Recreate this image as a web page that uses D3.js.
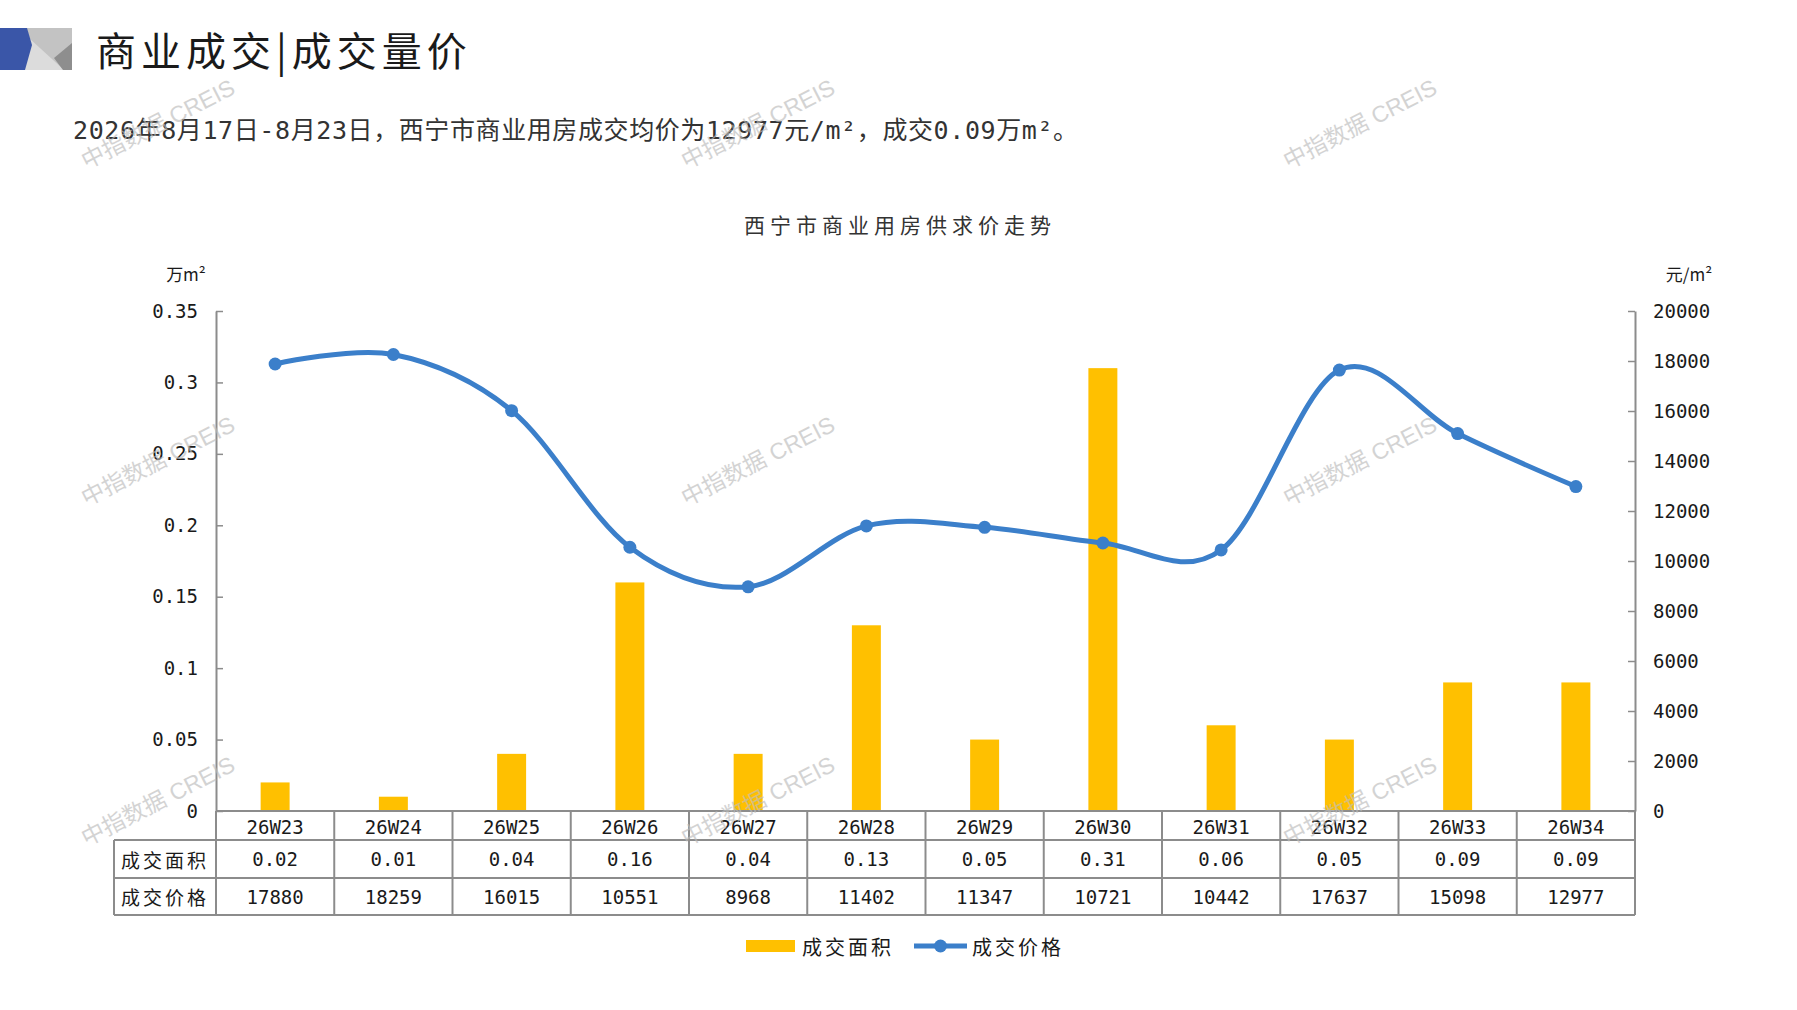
<!DOCTYPE html>
<html>
<head>
<meta charset="utf-8">
<script src="https://cdn.jsdelivr.net/npm/d3@7/dist/d3.min.js"></script>
<style>
  body { margin: 0; background: #fff; }
  text { fill: #1a1a1a; }
</style>
</head>
<body>
<script>
const weeks = ['26W23','26W24','26W25','26W26','26W27','26W28','26W29','26W30','26W31','26W32','26W33','26W34']
const area = [0.02,0.01,0.04,0.16,0.04,0.13,0.05,0.31,0.06,0.05,0.09,0.09]
const price = [17880,18259,16015,10551,8968,11402,11347,10721,10442,17637,15098,12977]
const areaTicks = [0,0.05,0.1,0.15,0.2,0.25,0.3,0.35]
const priceTicks = [0,2000,4000,6000,8000,10000,12000,14000,16000,18000,20000]
const rowNames = ['成交面积','成交价格']

const W = 1797, H = 1010
const plotL = 216, plotR = 1635, plotT = 311, plotB = 811
const rowY = [811, 840, 878, 915]
const tableLeft = 114
const gold = '#FFC000', blue = '#3b7fca', grid = '#8c8c8c'
const cjk = '"Noto Sans CJK SC", "Noto Sans", sans-serif'
const mono = '"DejaVu Sans Mono", "Noto Sans CJK SC", monospace'

const svg = d3.select('body').append('svg')
  .attr('width', W)
  .attr('height', H)

// header icon
const icon = svg.append('g')
icon.append('rect').attr('x', 25).attr('y', 28).attr('width', 47).attr('height', 42).attr('fill', '#c3c3c3')
icon.append('polygon').attr('points', '29,38 24,70 64,70').attr('fill', '#dcdcdc')
icon.append('polygon').attr('points', '72,43 54,58 63,70 72,70').attr('fill', '#8e8e8e')
icon.append('polygon').attr('points', '0,28 27,28 32,45 25,70 0,70').attr('fill', '#3a56a8')

svg.append('text')
  .attr('x', 96).attr('y', 49)
  .attr('dominant-baseline', 'central')
  .style('font-family', cjk).style('font-size', '40px').style('letter-spacing', '5px')
  .text('商业成交|成交量价')

svg.append('text')
  .attr('x', 73).attr('y', 130)
  .attr('dominant-baseline', 'central')
  .style('font-family', mono).style('font-size', '25px').style('letter-spacing', '0.6px').style('fill', '#333')
  .text(`2026年8月17日-8月23日，西宁市商业用房成交均价为${price[price.length-1]}元/m²，成交${area[area.length-1].toFixed(2)}万m²。`)

svg.append('text')
  .attr('x', 900).attr('y', 224)
  .attr('text-anchor', 'middle').attr('dominant-baseline', 'central')
  .style('font-family', cjk).style('font-size', '21px').style('letter-spacing', '5px').style('fill', '#333')
  .text('西宁市商业用房供求价走势')

svg.append('text')
  .attr('x', 186).attr('y', 273)
  .attr('text-anchor', 'middle').attr('dominant-baseline', 'central')
  .style('font-family', cjk).style('font-size', '17px')
  .text('万m²')
svg.append('text')
  .attr('x', 1689).attr('y', 273)
  .attr('text-anchor', 'middle').attr('dominant-baseline', 'central')
  .style('font-family', cjk).style('font-size', '17px')
  .text('元/m²')

const x = d3.scaleBand().domain(weeks).range([plotL, plotR]).padding(0)
const yL = d3.scaleLinear().domain([0, 0.35]).range([plotB, plotT])
const yR = d3.scaleLinear().domain([0, 20000]).range([plotB, plotT])

const fmtArea = d => String(+d.toFixed(2))

const axL = svg.append('g')
  .attr('transform', `translate(${plotL},0)`)
  .call(d3.axisLeft(yL).tickValues(areaTicks).tickFormat(fmtArea).tickSizeInner(-7).tickSizeOuter(0).tickPadding(18))
const axR = svg.append('g')
  .attr('transform', `translate(${plotR},0)`)
  .call(d3.axisRight(yR).tickValues(priceTicks).tickFormat(d3.format('d')).tickSizeInner(-7).tickSizeOuter(0).tickPadding(18))
;[axL, axR].forEach(ax => {
  ax.select('.domain').attr('stroke', grid).attr('stroke-width', 2)
  ax.selectAll('.tick line').attr('stroke', grid).attr('stroke-width', 1.5)
  ax.selectAll('.tick text')
    .style('font-family', mono).style('font-size', '19px').attr('fill', '#1a1a1a')
})

// bars
const bw = x.bandwidth() * 0.245
svg.selectAll('rect.bar')
  .data(area)
  .enter()
  .append('rect')
  .attr('class', 'bar')
  .attr('x', (d, i) => x(weeks[i]) + x.bandwidth() / 2 - bw / 2)
  .attr('width', bw)
  .attr('y', d => yL(d))
  .attr('height', d => plotB - yL(d))
  .attr('fill', gold)

// table
const tb = svg.append('g').attr('stroke', grid).attr('stroke-width', 2)
tb.append('line').attr('x1', plotL).attr('x2', plotR).attr('y1', rowY[0]).attr('y2', rowY[0])
rowY.slice(1).forEach(y => {
  tb.append('line').attr('x1', tableLeft).attr('x2', plotR).attr('y1', y).attr('y2', y)
})
tb.append('line').attr('x1', tableLeft).attr('x2', tableLeft).attr('y1', rowY[1]).attr('y2', rowY[3])
weeks.forEach(w => {
  tb.append('line').attr('x1', x(w)).attr('x2', x(w)).attr('y1', rowY[0]).attr('y2', rowY[3])
})
tb.append('line').attr('x1', plotR).attr('x2', plotR).attr('y1', rowY[0]).attr('y2', rowY[3])

const midY = i => (rowY[i] + rowY[i + 1]) / 2
const cell = (xx, yy, t, font) => svg.append('text')
  .attr('x', xx).attr('y', yy)
  .attr('text-anchor', 'middle').attr('dominant-baseline', 'central')
  .style('font-family', font).style('font-size', '19px')
  .text(t)

weeks.forEach((w, i) => {
  const cx = x(w) + x.bandwidth() / 2
  cell(cx, midY(0) + 1, w, mono)
  cell(cx, midY(1), area[i].toFixed(2), mono)
  cell(cx, midY(2), price[i], mono)
})
rowNames.forEach((n, i) => {
  cell((tableLeft + plotL) / 2, midY(i + 1), n, cjk).style('letter-spacing', '3px')
})

// price line
const pts = price.map((p, i) => [x(weeks[i]) + x.bandwidth() / 2, yR(p)])
svg.append('path')
  .attr('d', d3.line().curve(d3.curveCardinal.tension(0))(pts))
  .attr('fill', 'none')
  .attr('stroke', blue)
  .attr('stroke-width', 5)
svg.selectAll('circle.pt')
  .data(pts)
  .enter()
  .append('circle')
  .attr('class', 'pt')
  .attr('cx', d => d[0])
  .attr('cy', d => d[1])
  .attr('r', 6.5)
  .attr('fill', blue)

// legend
const lg = svg.append('g')
lg.append('rect').attr('x', 746).attr('y', 940).attr('width', 49).attr('height', 12).attr('fill', gold)
lg.append('text').attr('x', 802).attr('y', 946).attr('dominant-baseline', 'central')
  .style('font-family', cjk).style('font-size', '20px').style('letter-spacing', '3px').text(rowNames[0])
lg.append('line').attr('x1', 914).attr('x2', 967).attr('y1', 946).attr('y2', 946)
  .attr('stroke', blue).attr('stroke-width', 5)
lg.append('circle').attr('cx', 940.5).attr('cy', 946).attr('r', 6.5).attr('fill', blue)
lg.append('text').attr('x', 972).attr('y', 946).attr('dominant-baseline', 'central')
  .style('font-family', cjk).style('font-size', '20px').style('letter-spacing', '3px').text(rowNames[1])

// watermarks
const wmX = [158, 758, 1360], wmY = [124, 461, 801]
wmY.forEach(wy => wmX.forEach(wx => {
  svg.append('text')
    .attr('transform', `translate(${wx},${wy}) rotate(-27)`)
    .attr('text-anchor', 'middle').attr('dominant-baseline', 'central')
    .style('font-family', '"Liberation Sans", "Noto Sans CJK SC", sans-serif')
    .style('font-size', '23px').style('fill', '#bdbdbd').style('opacity', 0.65)
    .text('中指数据 CREIS')
}))
</script>
</body>
</html>
